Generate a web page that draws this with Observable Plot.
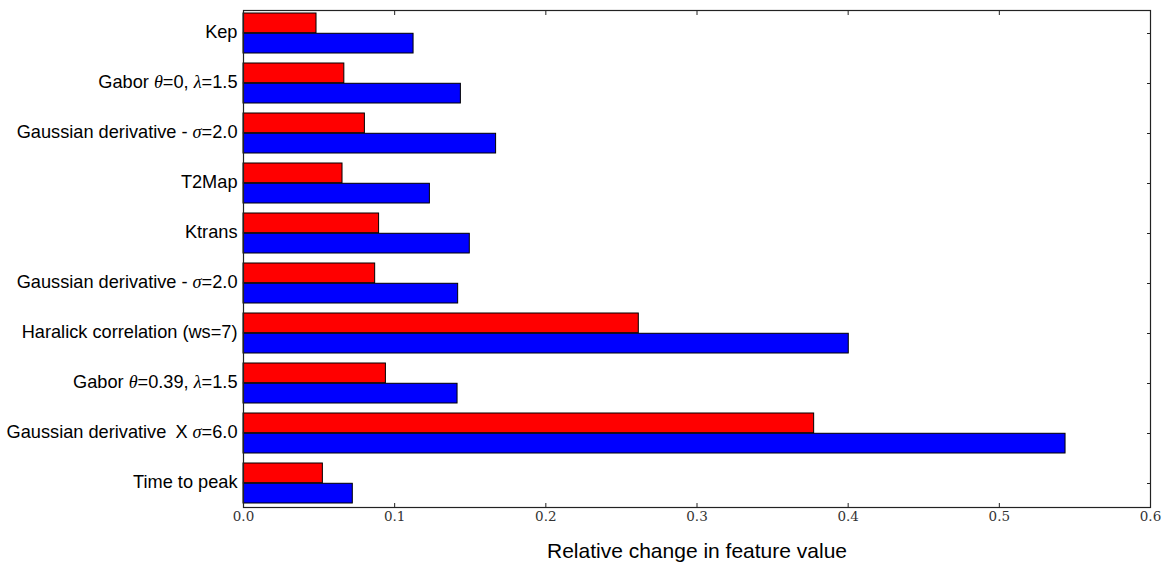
<!DOCTYPE html>
<html><head><meta charset="utf-8">
<script src="https://cdn.jsdelivr.net/npm/d3@7"></script>
<script src="https://cdn.jsdelivr.net/npm/@observablehq/plot@0.6"></script>
<style>body{margin:0;background:#fff} svg{display:block}</style>
</head><body><div id="chart"></div>
<script>
const labels = [
  "Kep",
  "Gabor θ=0, λ=1.5",
  "Gaussian derivative - σ=2.0",
  "T2Map",
  "Ktrans",
  "Gaussian derivative - σ=2.0",
  "Haralick correlation (ws=7)",
  "Gabor θ=0.39, λ=1.5",
  "Gaussian derivative\u2002X σ=6.0",
  "Time to peak"
];
const redValues  = [0.0483, 0.0667, 0.0803, 0.0655, 0.0897, 0.0871, 0.2615, 0.0942, 0.3775, 0.0525];
const blueValues = [0.1125, 0.1438, 0.1671, 0.1233, 0.1497, 0.1420, 0.4004, 0.1416, 0.5438, 0.0723];
const xTicks = [0, 0.1, 0.2, 0.3, 0.4, 0.5, 0.6];
const xLabel = "Relative change in feature value";

const W = 1162, H = 569, mt = 10, mb = 62, ml = 243, mr = 12;
const pad = 0.2;
const n = labels.length;
const step = (H - mt - mb) / (n - pad);
const bw = step * (1 - pad);
const rows = labels.map((label, i) => ({i, label, red: redValues[i], blue: blueValues[i]}));

const chart = Plot.plot({
  width: W, height: H,
  marginTop: mt, marginBottom: mb, marginLeft: ml, marginRight: mr,
  style: {fontFamily: "'Liberation Sans', Arial, sans-serif", fontSize: "18px", background: "#fff", color: "#000"},
  x: {domain: [0, 0.6], label: null},
  y: {type: "band", domain: d3.range(n), paddingInner: pad, paddingOuter: 0, label: null},
  marks: [
    Plot.barX(rows, {y: "i", x: "red", fill: "#ff0000", stroke: "#000", strokeWidth: 1, insetBottom: bw / 2}),
    Plot.barX(rows, {y: "i", x: "blue", fill: "#0000ff", stroke: "#000", strokeWidth: 1, insetTop: bw / 2}),
    Plot.frame({stroke: "#222", strokeWidth: 1.2}),
    Plot.axisX(xTicks, {anchor: "bottom", tickSize: -4, fill: "none", stroke: "#222", label: null}),
    Plot.axisX(xTicks, {anchor: "top", tickSize: -4, fill: "none", stroke: "#222", label: null}),
    Plot.axisY({anchor: "right", tickSize: -4, fill: "none", stroke: "#222", label: null}),
    Plot.axisX(xTicks, {anchor: "bottom", tickSize: 0, tickPadding: 4, tickFormat: d3.format(".1f"),
      fontFamily: "'DejaVu Serif', serif", fontSize: 13.5, fill: "#333", label: null}),
    Plot.axisY({anchor: "left", tickSize: 0, tickPadding: 6, tickFormat: i => labels[i],
      fontSize: 18.2, fill: "#000", dy: -1, label: null}),
    Plot.text([xLabel], {text: d => d, frameAnchor: "bottom", dy: 50, fontSize: 21, fill: "#000"})
  ]
});

// italic serif Greek letters inside the category labels
const greek = /([θλσ])/;
chart.querySelectorAll('g[aria-label="y-axis tick label"] text').forEach(t => {
  const s = t.textContent;
  if (!greek.test(s)) return;
  t.textContent = "";
  s.split(greek).forEach(part => {
    if (!part) return;
    const ts = document.createElementNS("http://www.w3.org/2000/svg", "tspan");
    if (greek.test(part)) {
      ts.setAttribute("font-family", "'Liberation Serif', 'DejaVu Serif', serif");
      ts.setAttribute("font-style", "italic");
    }
    ts.textContent = part;
    t.appendChild(ts);
  });
});

document.getElementById("chart").appendChild(chart);
</script>
</body></html>
